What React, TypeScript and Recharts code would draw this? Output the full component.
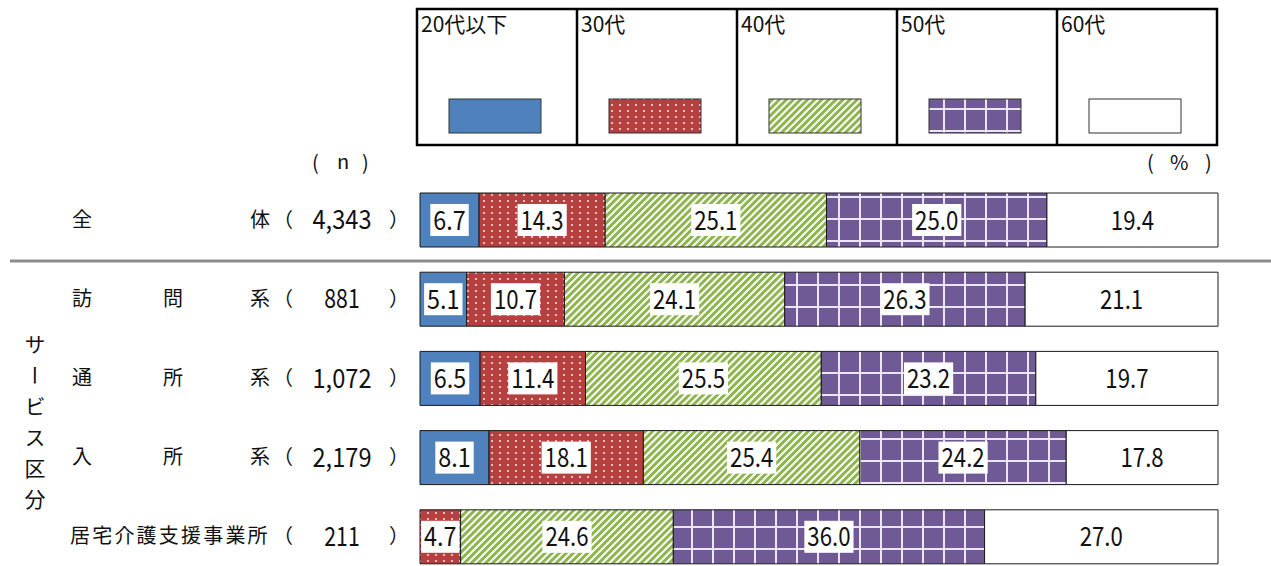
import React from 'react'
import { BarChart, Bar, XAxis, YAxis, LabelList } from 'recharts'

const FONT = "'Noto Sans CJK JP', 'Noto Sans', sans-serif"

// rows
const categories = ['全体', '訪問系', '通所系', '入所系', '居宅介護支援事業所']
const counts = ['4,343', '881', '1,072', '2,179', '211']

// age shares (%), one array per age band
const age20 = [6.7, 5.1, 6.5, 8.1, 0]
const age30 = [14.3, 10.7, 11.4, 18.1, 4.7]
const age40 = [25.1, 24.1, 25.5, 25.4, 24.6]
const age50 = [25.0, 26.3, 23.2, 24.2, 36.0]
const age60 = [19.4, 21.1, 19.7, 17.8, 27.0]

const SERIES = [
  { key: 'age20', name: '20代以下', fill: '#4F81BD', boxed: true },
  { key: 'age30', name: '30代', fill: 'url(#dots)', boxed: true },
  { key: 'age40', name: '40代', fill: 'url(#stripes)', boxed: true },
  { key: 'age50', name: '50代', fill: 'url(#grid)', boxed: true },
  { key: 'age60', name: '60代', fill: '#ffffff', boxed: false },
]

const data = categories.map((name, i) => ({
  name,
  count: counts[i],
  age20: age20[i],
  age30: age30[i],
  age40: age40[i],
  age50: age50[i],
  age60: age60[i],
}))

// narrow half-width digits
function Num({ x, y, str, anchor = 'middle', w = 10.8 }: any) {
  return (
    <text x={x} y={y} fontSize={26} fontFamily={FONT} fill="#111" textAnchor={anchor}
      textLength={str.length * w} lengthAdjust="spacingAndGlyphs">
      {str}
    </text>
  )
}

function ValueLabel(props: any) {
  const { value, boxed } = props
  const vb = props.viewBox || props
  const x = props.x ?? vb.x
  const y = props.y ?? vb.y
  const width = props.width ?? vb.width
  const height = props.height ?? vb.height
  if (!value) return null
  const str = Number(value).toFixed(1)
  const tw = str.length * 10.8
  const cx = x + width / 2
  const cy = y + height / 2
  return (
    <g>
      {boxed && <rect x={cx - tw / 2 - 3} y={cy - 16} width={tw + 6} height={32} fill="#fff" />}
      <Num x={cx} y={cy + 9.5} str={str} />
    </g>
  )
}

function CategoryTick(props: any) {
  const { y, payload } = props
  const name: string = payload.value
  const i = categories.indexOf(name)
  const base = y + 7
  let nameEl
  if (name.length === 2) {
    nameEl = (
      <g>
        <text x={72} y={base}>{name[0]}</text>
        <text x={250} y={base}>{name[1]}</text>
      </g>
    )
  } else if (name.length === 3) {
    nameEl = (
      <g>
        <text x={72} y={base}>{name[0]}</text>
        <text x={163} y={base}>{name[1]}</text>
        <text x={250} y={base}>{name[2]}</text>
      </g>
    )
  } else {
    nameEl = <text x={70} y={base} letterSpacing={2.2}>{name}</text>
  }
  return (
    <g fontFamily={FONT} fontSize={20} fill="#111">
      {nameEl}
      <text x={273} y={base}>（</text>
      <Num x={342} y={y + 9.5} str={counts[i]} w={11.8} />
      <text x={389} y={base}>）</text>
    </g>
  )
}

function Overlay() {
  return (
    <svg width={1271} height={566} style={{ position: 'absolute', left: 0, top: 0, pointerEvents: 'none' }}>
      <defs>
        <pattern id="dots" width={8} height={6} patternUnits="userSpaceOnUse">
          <rect width={8} height={6} fill="#B5403F" />
          <circle cx={4} cy={3} r={1.1} fill="#f4dede" />
        </pattern>
        <pattern id="stripes" width={5} height={5} patternUnits="userSpaceOnUse" patternTransform="rotate(45)">
          <rect width={5} height={5} fill="#ffffff" />
          <rect width={3} height={5} fill="#8FB54F" />
        </pattern>
        <pattern id="grid" width={21} height={22} patternUnits="userSpaceOnUse">
          <rect width={21} height={22} fill="#705A96" />
          <rect x={19} width={2} height={22} fill="#ece6f4" />
          <rect y={20} width={21} height={2} fill="#ece6f4" />
        </pattern>
      </defs>

      {/* legend table */}
      <g fontFamily={FONT} fontSize={21} fill="#111">
        <rect x={417} y={9} width={800} height={136} fill="none" stroke="#000" strokeWidth={2.5} />
        {SERIES.map((s, i) => {
          const x0 = 417 + 160 * i
          return (
            <g key={s.key}>
              {i > 0 && <line x1={x0} x2={x0} y1={9} y2={145} stroke="#000" strokeWidth={2.5} />}
              <text x={x0 + 4} y={32}>{s.name}</text>
              <rect x={x0 + 32} y={99} width={92} height={34} fill={s.fill} stroke="#333" strokeWidth={1} />
            </g>
          )
        })}
      </g>

      {/* column headers */}
      <g fontFamily={FONT} fontSize={20} fill="#111">
        <text x={312} y={170}>(</text>
        <text x={337} y={169}>n</text>
        <text x={362} y={170}>)</text>
        <text x={1147} y={170}>(</text>
        <text x={1170} y={170}>%</text>
        <text x={1205} y={170}>)</text>
      </g>

      <line x1={10} x2={1271} y1={261} y2={261} stroke="#8c8c8c" strokeWidth={3} />

      <text x={35} y={334} fontFamily={FONT} fontSize={21} fill="#111" letterSpacing={10}
        style={{ writingMode: 'vertical-rl' }}>
        サービス区分
      </text>
    </svg>
  )
}

export default function App() {
  return (
    <div style={{ position: 'absolute', left: 0, top: 0, width: 1271, height: 566, overflow: 'hidden', background: '#fff' }}>
      <Overlay />
      <div style={{ position: 'absolute', left: 0, top: 0 }}>
        <BarChart width={1271} height={580} data={data} layout="vertical" stackOffset="expand"
          margin={{ top: 180, right: 53, bottom: 4, left: 0 }} barCategoryGap={0}>
          <XAxis type="number" domain={[0, 1]} hide />
          <YAxis type="category" dataKey="name" width={420} axisLine={false} tickLine={false}
            tick={<CategoryTick />} interval={0} />
          {SERIES.map((s) => (
            <Bar key={s.key} dataKey={s.key} name={s.name} stackId="a" fill={s.fill}
              stroke="#1a1a1a" strokeWidth={1} barSize={54} isAnimationActive={false}>
              <LabelList dataKey={s.key} content={(p: any) => <ValueLabel {...p} boxed={s.boxed} />} />
            </Bar>
          ))}
        </BarChart>
      </div>
    </div>
  )
}
